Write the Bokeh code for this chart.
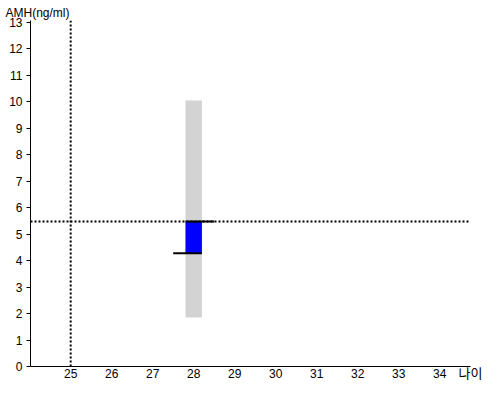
from bokeh.plotting import figure
from bokeh.models import Span, FixedTicker
from bokeh.embed import file_html
from bokeh.resources import INLINE

# data
ages = [28.0]
range_low = [1.85]
range_high = [10.05]
prev_amh = [4.28]
cur_amh = [5.48]
ref_age = 25
ref_amh = 5.48
x_ticks = list(range(25, 35))
y_ticks = list(range(0, 14))

FONT = "Liberation Sans"

p = figure(width=484, height=384, output_backend="svg", toolbar_location=None,
           x_range=(24.02, 34.75), y_range=(0, 13.07),
           min_border_left=30, min_border_right=14, min_border_top=20, min_border_bottom=4)
p.outline_line_color = None
p.xgrid.visible = False
p.ygrid.visible = False

bw = 0.4
p.vbar(x=ages, width=bw, bottom=range_low, top=range_high, fill_color="#D3D3D3", line_color=None)
p.vbar(x=ages, width=bw, bottom=prev_amh, top=cur_amh, fill_color="#0000FF", line_color=None)

x0 = [a - bw / 2 for a in ages]
x1 = [a + bw / 2 for a in ages]
p.segment(x0=[a - 0.3 for a in x0], x1=x1, y0=prev_amh, y1=prev_amh, line_color="black", line_width=2)
p.segment(x0=x0, x1=[a + 0.3 for a in x1], y0=cur_amh, y1=cur_amh, line_color="black", line_width=2)

p.add_layout(Span(location=ref_age, dimension="height", line_color="black", line_width=2, line_dash="2 2"))
p.add_layout(Span(location=ref_amh, dimension="width", line_color="black", line_width=2, line_dash="2 2"))

for ax in (p.xaxis[0], p.yaxis[0]):
    ax.axis_line_color = "black"
    ax.axis_line_width = 1
    ax.major_label_text_font = FONT
    ax.major_label_text_font_size = "12px"
    ax.major_label_text_color = "black"
    ax.minor_tick_line_color = None
p.xaxis.ticker = FixedTicker(ticks=x_ticks)
p.yaxis.ticker = FixedTicker(ticks=y_ticks)
p.xaxis.major_tick_line_color = None
p.xaxis.major_tick_out = 0
p.xaxis.major_tick_in = 0
p.xaxis.major_label_standoff = 2
p.yaxis.major_tick_out = 4
p.yaxis.major_tick_in = 0
p.yaxis.major_tick_line_color = "black"
p.yaxis.major_label_standoff = 4

p.xaxis.axis_label = "나이"
p.xaxis.axis_label_align = "end"
p.xaxis.axis_label_standoff = -18
p.xaxis.axis_label_text_font = "Noto Sans CJK KR"
p.xaxis.axis_label_text_font_size = "13px"
p.xaxis.axis_label_text_font_style = "normal"
p.xaxis.axis_label_text_color = "black"

p.title.text = "AMH(ng/ml)"
p.title.align = "left"
p.title.offset = -25
p.title.standoff = 2
p.title.text_font = FONT
p.title.text_font_size = "12px"
p.title.text_font_style = "normal"
p.title.text_color = "black"

open("out.html", "w").write(file_html(p, INLINE))
